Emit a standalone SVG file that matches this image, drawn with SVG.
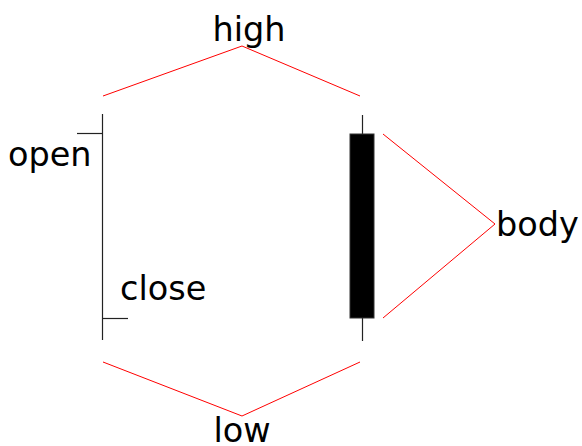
<svg xmlns="http://www.w3.org/2000/svg" width="582" height="446" viewBox="0 0 582 446">
<style>
.t{font-family:"DejaVu Sans",sans-serif;font-size:33.5px;fill:#000}
.r{stroke:#ff0000;stroke-width:1;fill:none}
.k{stroke:#222;stroke-width:1.2;fill:none}
</style>
<rect width="582" height="446" fill="#fff"/>
<g id="connectors">
<polyline class="r" points="103,96 242,46 360,96"/>
<polyline class="r" points="103,362 242,416 360,362"/>
<polyline class="r" points="383,134 495,224 383,318"/>
</g>
<g id="left-candle">
<line class="k" x1="102.5" y1="114" x2="102.5" y2="340"/>
<line class="k" x1="77" y1="133.5" x2="102.5" y2="133.5"/>
<line class="k" x1="102.5" y1="318.5" x2="128" y2="318.5"/>
</g>
<g id="right-candle">
<line class="k" x1="362.5" y1="115" x2="362.5" y2="341"/>
<rect x="350" y="134" width="24" height="184" fill="#000" stroke="#333" stroke-width="1"/>
</g>
<g id="label-high"><text class="t" x="249" y="41" text-anchor="middle">high</text></g>
<g id="label-open"><text class="t" x="8" y="166">open</text></g>
<g id="label-close"><text class="t" x="120" y="300">close</text></g>
<g id="label-body"><text class="t" x="496" y="236">body</text></g>
<g id="label-low"><text class="t" x="242" y="442" text-anchor="middle">low</text></g>
</svg>
